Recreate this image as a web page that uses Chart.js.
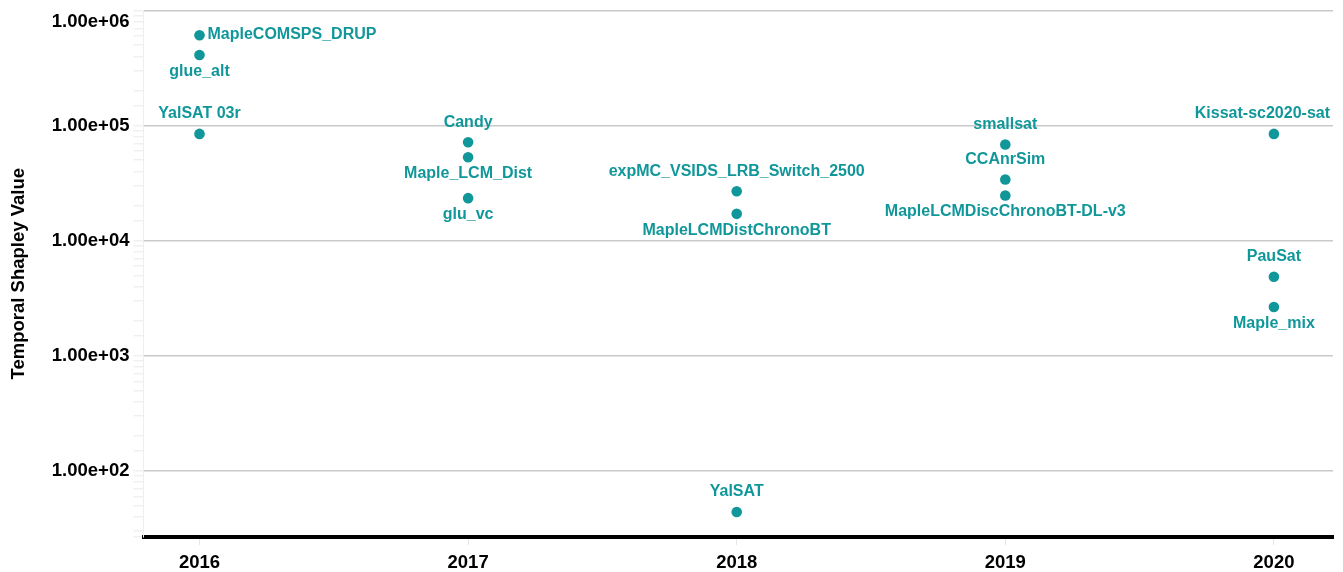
<!DOCTYPE html>
<html>
<head>
<meta charset="utf-8">
<script src="https://cdn.jsdelivr.net/npm/chart.js@4.4.1/dist/chart.umd.min.js"></script>
<style>
  html, body { margin: 0; padding: 0; background: #ffffff; }
  #wrap { width: 1343px; height: 572px; position: relative; }
</style>
</head>
<body>
<div id="wrap"><canvas id="c" width="1343" height="572"></canvas></div>
<script>
// ---- data ----
const yearTicks = [2016, 2017, 2018, 2019, 2020];
const solverNames = [
  'MapleCOMSPS_DRUP', 'glue_alt', 'YalSAT 03r',
  'Candy', 'Maple_LCM_Dist', 'glu_vc',
  'expMC_VSIDS_LRB_Switch_2500', 'MapleLCMDistChronoBT', 'YalSAT',
  'smallsat', 'CCAnrSim', 'MapleLCMDiscChronoBT-DL-v3',
  'Kissat-sc2020-sat', 'PauSat', 'Maple_mix'
];
const solverYears = [
  2016, 2016, 2016,
  2017, 2017, 2017,
  2018, 2018, 2018,
  2019, 2019, 2019,
  2020, 2020, 2020
];
const shapleyValues = [
  609000, 411000, 84700,
  71700, 53100, 23400,
  26900, 17100, 43.9,
  68400, 34000, 24700,
  84700, 4850, 2650
];
const labelSides = [
  'right', 'below', 'above',
  'above', 'below', 'below',
  'above', 'below', 'above',
  'above', 'above', 'below',
  'above', 'above', 'below'
];
const yMin = 26.6;
const yMax = 1000000;

const TEAL = '#11979a';
const FONT = '"Liberation Sans", Arial, sans-serif';

const points = solverYears.map((yr, i) => ({ x: yr, y: shapleyValues[i] }));

function fmtExp(v) {
  return v.toExponential(2).replace(/e([+-])(\d)$/, 'e$10$2');
}
function isDecade(v) {
  const l = Math.log10(v);
  return Math.abs(l - Math.round(l)) < 1e-9;
}

const labelPlugin = {
  id: 'pointLabels',
  afterDatasetsDraw(chart) {
    const ctx = chart.ctx;
    const area = chart.chartArea;
    const meta = chart.getDatasetMeta(0);
    ctx.save();
    ctx.fillStyle = TEAL;
    ctx.font = 'bold 16px ' + FONT;
    ctx.textBaseline = 'alphabetic';
    meta.data.forEach((el, i) => {
      const side = labelSides[i];
      const name = solverNames[i];
      if (side === 'right') {
        ctx.textAlign = 'left';
        ctx.fillText(name, el.x + 8, el.y + 4);
      } else {
        const w = ctx.measureText(name).width;
        let cx = el.x;
        const limit = area.right - 3;
        if (cx + w / 2 > limit) cx = limit - w / 2;
        ctx.textAlign = 'center';
        ctx.fillText(name, cx, side === 'above' ? el.y - 15.5 : el.y + 21);
      }
    });
    ctx.restore();
  }
};

new Chart(document.getElementById('c'), {
  type: 'scatter',
  data: {
    datasets: [{
      label: 'Temporal Shapley Value',
      data: points,
      backgroundColor: TEAL,
      borderColor: TEAL,
      pointRadius: 5.3,
      pointHoverRadius: 5.3,
      borderWidth: 0
    }]
  },
  options: {
    responsive: false,
    animation: false,
    layout: { padding: { top: 10.5, right: 10, left: 0, bottom: 0 } },
    plugins: {
      legend: { display: false },
      tooltip: { enabled: false }
    },
    scales: {
      x: {
        type: 'linear',
        min: 2015.7915,
        max: 2020.22,
        afterBuildTicks(scale) {
          scale.ticks = yearTicks.map(v => ({ value: v }));
        },
        afterFit(scale) {
          scale.height = 35;
          scale.paddingLeft = 0;
          scale.paddingRight = 0;
        },
        grid: {
          drawOnChartArea: false,
          drawTicks: true,
          tickLength: 8,
          tickColor: '#e6e6e6',
          lineWidth: 1
        },
        border: { display: true, color: '#000000', width: 4 },
        ticks: {
          color: '#000000',
          font: { family: FONT, size: 18.5, weight: 'bold' },
          padding: 7,
          callback: v => String(v)
        }
      },
      y: {
        type: 'logarithmic',
        min: yMin,
        max: yMax,
        afterFit(scale) {
          scale.width = 143.5;
          scale.paddingTop = 0;
          scale.paddingBottom = 0;
        },
        title: {
          display: true,
          text: 'Temporal Shapley Value',
          color: '#000000',
          font: { family: FONT, size: 18.5, weight: 'bold' },
          padding: { top: 8, bottom: 4 }
        },
        grid: {
          color: ctx => (ctx.tick && isDecade(ctx.tick.value)) ? '#c9c9c9' : 'rgba(0,0,0,0)',
          lineWidth: 1.5,
          drawTicks: true,
          tickLength: 10,
          tickColor: '#f0f0f0'
        },
        border: { display: true, color: '#eeeeee', width: 1 },
        ticks: {
          autoSkip: false,
          color: '#000000',
          font: { family: FONT, size: 18.5, weight: 'bold' },
          padding: 4,
          callback: v => {
            if (!isDecade(v)) return '';
            // top-most label is kept inside the canvas (shifted down half a line)
            return v >= yMax ? ['', fmtExp(v)] : fmtExp(v);
          }
        }
      }
    }
  },
  plugins: [labelPlugin]
});
</script>
</body>
</html>
